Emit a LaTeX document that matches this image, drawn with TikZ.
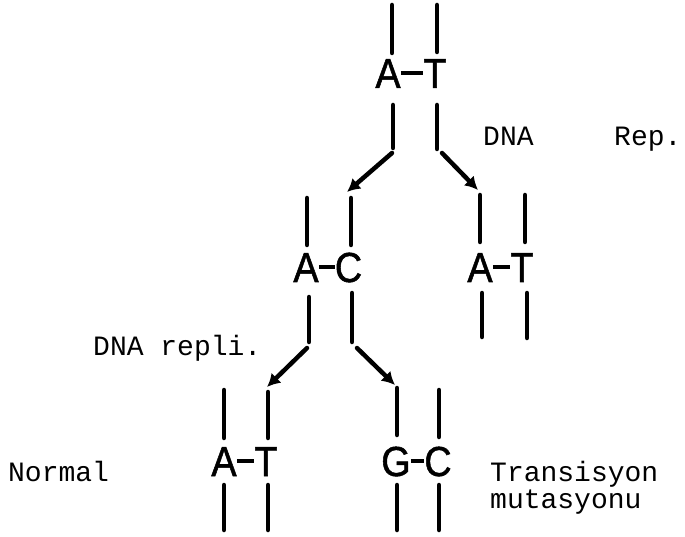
\documentclass[tikz,border=0pt]{standalone}
\usepackage{fontspec}
\setmainfont{Liberation Sans}
\newfontfamily\basefont[FakeStretch=0.9,FakeBold=1.2]{Liberation Sans}
\newfontfamily\typewriter{Liberation Mono}
\usetikzlibrary{arrows.meta}

\begin{document}
\begin{tikzpicture}[x=1pt,y=-1pt,
  strand/.style={line width=4.5pt,line cap=round},
  bond/.style={line width=3.8pt},
  fork/.style={line width=4.5pt,line cap=round,-{Latex[length=13pt,width=14pt]}},
  base/.style={inner sep=0pt,text height=30pt,text depth=0pt,
    font=\basefont\fontsize{42}{42}\selectfont},
  note/.style={inner sep=0pt,anchor=base west,
    font=\typewriter\fontsize{28}{28}\selectfont}]
\useasboundingbox (0,0) rectangle (685,537);

% parent pair
\node[base] (a1) at (388,73) {A};
\node[base] (t1) at (435,73) {T};
\draw[bond] (a1.east) -- (t1.west);

% first generation
\node[base] (a2) at (306,267) {A};
\node[base] (c2) at (348.5,267) {C};
\draw[bond] (a2.east) -- (c2.west);
\node[base] (a3) at (480,267) {A};
\node[base] (t3) at (522,267) {T};
\draw[bond] (a3.east) -- (t3.west);

% second generation
\node[base] (a4) at (224,461) {A};
\node[base] (t4) at (266,461) {T};
\draw[bond] (a4.east) -- (t4.west);
\node[base] (g5) at (396,461) {G};
\node[base] (c5) at (438,461) {C};
\draw[bond] (g5.east) -- (c5.west);

% strand pieces above and below each pair
\foreach \x/\ya/\yb in {
  392/5/53, 393/105/148, 437/5/52, 437/105/149,
  307/198/245, 309/297/342, 351/198/245, 352/293/342,
  480/195/242, 482/293/337, 525/195/242, 527/293/338,
  224/390/438, 224/485/530, 268/392/438, 268/485/530,
  397/388/435, 397/485/530, 439/390/437, 439/485/530}
  \draw[strand] (\x,\ya) -- (\x,\yb);

% replication forks
\coordinate (f1s) at (392,153); \coordinate (f1e) at (347,192);
\coordinate (f2s) at (442,153); \coordinate (f2e) at (478,190);
\coordinate (f3s) at (307,348); \coordinate (f3e) at (267,387);
\coordinate (f4s) at (357,348); \coordinate (f4e) at (395,385);
\draw[fork] (f1s) -- (f1e);
\draw[fork] (f2s) -- (f2e);
\draw[fork] (f3s) -- (f3e);
\draw[fork] (f4s) -- (f4e);

% typed labels
\node[note] (dna1) at (483,146) {DNA};
\node[note] (rep1) at (614,146) {Rep.};
\node[note] (dna2) at (93,355) {DNA repli.};
\node[note] (normal) at (8,481) {Normal};
\node[note] (trans) at (490,481) {Transisyon};
\node[note] (mut) at (490,508) {mutasyonu};
\end{tikzpicture}
\end{document}
